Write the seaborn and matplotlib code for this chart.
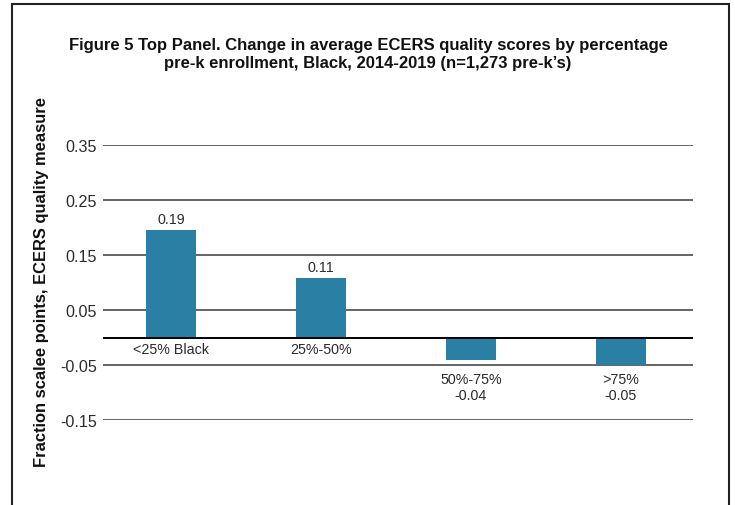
import seaborn as sns
import pandas as pd
from matplotlib import pyplot as plt
from matplotlib.patches import Rectangle

# data
categories = ["<25% Black", "25%-50%", "50%-75%", ">75%"]
values = [0.196, 0.108, -0.041, -0.05]
value_labels = ["0.19", "0.11", "-0.04", "-0.05"]
y_ticks = [-0.15, -0.05, 0.05, 0.15, 0.25, 0.35]

sns.set_style("white")
plt.rcParams["font.family"] = ["Liberation Sans", "DejaVu Sans"]

bar_color = "#2a7fa5"
text_color = "#2b2b2b"

df = pd.DataFrame({"group": categories, "change": values})

fig = plt.figure(figsize=(7.35, 5.06), dpi=100)
ax = fig.add_axes([103 / 735, 1 - 421 / 506, 590 / 735, 275 / 506])

sns.barplot(data=df, x="group", y="change", color=bar_color, width=1 / 3,
            saturation=1, linewidth=0, ax=ax, zorder=3)

ax.set_xlim(-0.453, 3.48)
ax.set_ylim(-0.15, 0.35)
ax.set_yticks(y_ticks)
ax.set_yticklabels([f"{t:.2f}" for t in y_ticks], fontsize=11.6, color=text_color)
ax.tick_params(axis="y", length=0, pad=4.5)
ax.set_xticks([])
ax.set_xlabel("")
ax.set_ylabel("")
ax.yaxis.grid(True, color="#4a4a4a", linewidth=1.2)
ax.set_axisbelow(True)
ax.axhline(0, color="black", linewidth=1.4, zorder=4)
sns.despine(ax=ax, left=True, bottom=True, top=True, right=True)

# labels: value above positive bars, category below the zero line;
# negative bars get category and value below the lowest bar
low = min(values)
for i, (cat, v, lab) in enumerate(zip(categories, values, value_labels)):
    if v >= 0:
        ax.annotate(lab, (i, v), xytext=(0, 3), textcoords="offset points",
                    ha="center", va="bottom", fontsize=10.3, color=text_color)
        ax.annotate(cat, (i, 0), xytext=(0, -8.3), textcoords="offset points",
                    ha="center", va="center", fontsize=10.3, color=text_color)
    else:
        ax.annotate(cat, (i, low), xytext=(0, -10), textcoords="offset points",
                    ha="center", va="center", fontsize=10.3, color=text_color)
        ax.annotate(lab, (i, low), xytext=(0, -21.5), textcoords="offset points",
                    ha="center", va="center", fontsize=10.3, color=text_color)

fig.text(42 / 735, 1 - 282 / 506, "Fraction scalee points, ECERS quality measure",
         rotation=90, ha="center", va="center", fontsize=11.9,
         fontweight="bold", color="#111111")

fig.text(368 / 735, 1 - 54.5 / 506,
         "Figure 5 Top Panel. Change in average ECERS quality scores by percentage\n"
         "pre-k enrollment, Black, 2014-2019 (n=1,273 pre-k\u2019s)",
         ha="center", va="center", fontsize=12, fontweight="bold",
         linespacing=1.3, color="#111111")

# frame around the panel, bottom edge cut off
fig.add_artist(Rectangle((12 / 735, -0.05), 717 / 735, 1.05 - 5 / 506,
                         transform=fig.transFigure, fill=False,
                         edgecolor="#222222", linewidth=1.5))

fig.savefig("out.png", dpi=100)
